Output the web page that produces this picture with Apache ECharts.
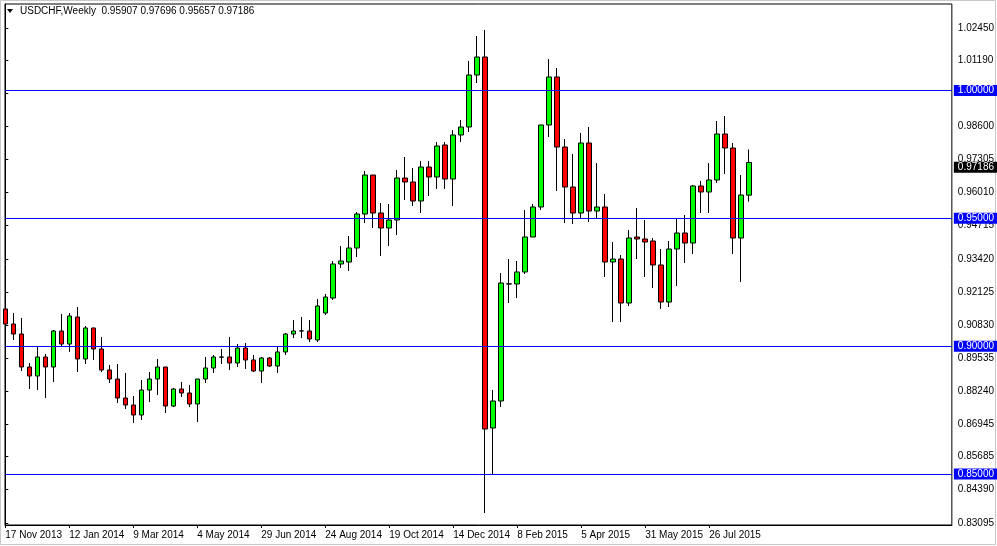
<!DOCTYPE html>
<html>
<head>
<meta charset="utf-8">
<script src="https://cdn.jsdelivr.net/npm/echarts@6/dist/echarts.min.js"></script>
<style>
html,body{margin:0;padding:0;background:#fff;}
#c{width:997px;height:546px;}
</style>
</head>
<body>
<div id="c"></div>
<script>
// ---- data (weekly USDCHF, from 17 Nov 2013) ----
const opens = [0.91455,0.90868,0.90477,0.89187,0.88835,0.89578,0.89187,0.90595,0.90086,0.91142,
0.89500,0.90712,0.89891,0.89070,0.88717,0.87974,0.87700,0.87309,0.88287,0.88717,
0.89187,0.87661,0.88326,0.88170,0.87740,0.88717,0.89148,0.89578,0.89578,0.89343,
0.89930,0.89461,0.89030,0.89539,0.89226,0.89774,0.90477,0.90595,0.90595,0.90243,
0.91298,0.91885,0.93215,0.93293,0.93840,0.95170,0.96695,0.95209,0.94623,0.94936,
0.96578,0.96422,0.95679,0.97008,0.96617,0.97869,0.96539,0.98260,0.98573,1.00606,
1.01310,0.86801,0.87857,0.92432,0.92432,0.92902,0.94271,0.95444,0.98651,1.00528,
0.97790,0.96226,0.95209,0.97947,0.95287,0.95444,0.93293,0.93410,0.91689,0.94271,
0.94193,0.94114,0.93176,0.91729,0.93801,0.94427,0.94036,0.96265,0.96031,0.96500,
0.98299,0.97751,0.94232,0.95907];
const closes = [0.90868,0.90477,0.89187,0.88835,0.89578,0.89187,0.90595,0.90086,0.91181,0.89500,
0.90712,0.89891,0.89070,0.88717,0.87974,0.87700,0.87309,0.88287,0.88717,0.89187,
0.87661,0.88326,0.88170,0.87740,0.88717,0.89148,0.89578,0.89570,0.89343,0.89930,
0.89461,0.89030,0.89539,0.89226,0.89774,0.90477,0.90595,0.90600,0.90282,0.91572,
0.91924,0.93215,0.93332,0.93840,0.95170,0.96695,0.95209,0.94623,0.94936,0.96578,
0.96422,0.95679,0.97008,0.96617,0.97830,0.96539,0.98260,0.98573,1.00606,1.01310,
0.86762,0.87857,0.92472,0.92440,0.92902,0.94271,0.95444,0.98651,1.00528,0.97790,
0.96226,0.95209,0.97947,0.95287,0.95444,0.93293,0.93410,0.91689,0.94232,0.94193,
0.94075,0.93176,0.91729,0.93801,0.94427,0.94036,0.96265,0.96031,0.96500,0.98299,
0.97751,0.94232,0.95913,0.97186];
const lows = [0.90555,0.90243,0.89030,0.88326,0.88287,0.87974,0.88600,0.90008,0.89774,0.88991,
0.89304,0.89461,0.88991,0.88561,0.87779,0.87544,0.86996,0.87114,0.87818,0.88092,
0.87387,0.87622,0.88013,0.87622,0.87035,0.88561,0.88952,0.89304,0.89070,0.89187,
0.89109,0.88991,0.88561,0.89187,0.88952,0.89656,0.90321,0.90321,0.90165,0.90165,
0.91220,0.91807,0.93058,0.92941,0.93489,0.94818,0.94623,0.93528,0.93919,0.94349,
0.95718,0.95483,0.95209,0.95874,0.96148,0.96148,0.95483,0.97986,0.98377,1.00293,
0.83477,0.84963,0.87622,0.91689,0.91885,0.92824,0.94271,0.95327,0.98181,0.96070,
0.94818,0.94779,0.95014,0.94857,0.94975,0.92706,0.90946,0.90946,0.91572,0.93410,
0.92706,0.92276,0.91455,0.91533,0.92354,0.93254,0.93606,0.95209,0.95209,0.96383,
0.96734,0.93606,0.92511,0.95657];
const highs = [0.91885,0.91298,0.91103,0.89343,0.89969,0.89695,0.90634,0.91259,0.91298,0.91533,
0.90790,0.90730,0.90360,0.89265,0.89304,0.88952,0.88052,0.88678,0.88991,0.89500,
0.89187,0.88365,0.88600,0.88483,0.88717,0.89578,0.89656,0.89891,0.90360,0.90086,
0.90125,0.89656,0.89578,0.89578,0.89969,0.90516,0.91024,0.91142,0.91024,0.91846,
0.92041,0.93332,0.93919,0.94310,0.95248,0.96852,0.96695,0.95600,0.95561,0.96891,
0.97399,0.96969,0.97243,0.97243,0.97986,0.97986,0.98455,0.98846,1.01154,1.02131,
1.02366,0.88287,0.92863,0.93410,0.93332,0.95327,0.95561,0.98651,1.01232,1.00880,
0.98103,0.97517,0.98338,0.98573,0.97165,0.95952,0.94075,0.93567,0.94545,0.95405,
0.94936,0.94232,0.93801,0.94114,0.95014,0.95131,0.96304,0.96461,0.97165,0.98807,
0.99003,0.97947,0.96695,0.97696];

const xTickLabels = ['17 Nov 2013','12 Jan 2014','9 Mar 2014','4 May 2014','29 Jun 2014','24 Aug 2014',
  '19 Oct 2014','14 Dec 2014','8 Feb 2015','5 Apr 2015','31 May 2015','26 Jul 2015'];
const xTickWeeks = [0,8,16,24,32,40,48,56,64,72,80,88];
const yTickLabels = [1.02450,1.01190,0.99895,0.98600,0.97305,0.96010,0.94715,0.93420,0.92125,
  0.90830,0.89535,0.88240,0.86945,0.85685,0.84390,0.83095];
const levelLines = [1.00000,0.95000,0.90000,0.85000];
const symbolName = 'USDCHF,Weekly';
const lastBar = {o:0.95907,h:0.97696,l:0.95657,c:0.97186};

// ---- chart ----
const FONT = 'Liberation Sans';
const chart = echarts.init(document.getElementById('c'), null, {renderer:'canvas'});
const seriesData = opens.map((o,i)=>[i,o,closes[i],lows[i],highs[i]]);

const gridLeft = 5, gridRight = 952, gridTop = 4, gridBottom = 525;
const pxPerBar = 8, firstBarX = 5.3;
const xMin = (gridLeft - firstBarX)/pxPerBar;
const xMax = xMin + (gridRight-gridLeft)/pxPerBar;
const pxPerUnit = 2557, y1 = 90.5;
const yMax = 1 + (y1-gridTop)/pxPerUnit;
const yMin = 1 - (gridBottom-y1)/pxPerUnit;

const boxLabel = (txt,bg)=>({show:true,position:'end',distance:2,formatter:txt,color:'#fff',
    backgroundColor:bg,padding:[1,4,0,4],fontFamily:FONT,fontSize:10});
const mlData = levelLines.map(v=>({yAxis:v,
  lineStyle:{color:'#0000ff',width:1,type:'solid'},
  label:boxLabel(v.toFixed(5),'#0000ff')}));
mlData.push({yAxis:lastBar.c, lineStyle:{color:'rgba(255,255,255,0)',width:1,type:'solid'},
  label:boxLabel(lastBar.c.toFixed(5),'#000')});

chart.setOption({
  animation:false,
  backgroundColor:'#fff',
  grid:{left:gridLeft,top:gridTop,width:gridRight-gridLeft,height:gridBottom-gridTop,
    show:true,borderColor:'#000',borderWidth:1,backgroundColor:'#fff'},
  xAxis:{type:'value',min:xMin,max:xMax,
    axisLine:{show:true,lineStyle:{color:'#000',width:1}},
    axisTick:{show:true,inside:false,length:3,lineStyle:{color:'#000'},customValues:xTickWeeks},
    axisLabel:{show:true,customValues:xTickWeeks,align:'left',margin:5,color:'#000',
      fontFamily:FONT,fontSize:10,
      formatter:(v)=>{const k=xTickWeeks.indexOf(Math.round(v));return k>=0?xTickLabels[k]:'';}},
    splitLine:{show:false}},
  yAxis:{type:'value',position:'right',min:yMin,max:yMax,scale:true,
    axisLine:{show:true,lineStyle:{color:'#000',width:1}},
    axisTick:{show:true,inside:false,length:3,lineStyle:{color:'#000'},customValues:yTickLabels},
    axisLabel:{show:true,customValues:yTickLabels,margin:6,color:'#000',fontFamily:FONT,fontSize:10,
      formatter:(v)=>v.toFixed(5)},
    splitLine:{show:false}},
  series:[{
    type:'candlestick',
    data:seriesData,
    encode:{x:0,y:[1,2,3,4]},
    barWidth:5,
    clip:true,
    itemStyle:{color:'#00ff00',color0:'#ff0000',borderColor:'#000',borderColor0:'#000',
      borderColorDoji:'#000',borderWidth:1},
    markLine:{silent:true,symbol:['none','none'],animation:false,data:mlData}
  }],
  graphic:[
    {type:'polygon',shape:{points:[[7,9],[13,9],[10,13]]},style:{fill:'#000'}},
    {type:'text',left:20,top:6,style:{text:symbolName+'  '+[lastBar.o,lastBar.h,lastBar.l,lastBar.c].map(v=>v.toFixed(5)).join(' '),
      fill:'#000',font:'10px '+FONT}},
    {type:'rect',shape:{x:0.5,y:0.5,width:995,height:544},style:{fill:'none',stroke:'#c8c8c8',lineWidth:1},silent:true}
  ]
});
</script>
</body>
</html>
